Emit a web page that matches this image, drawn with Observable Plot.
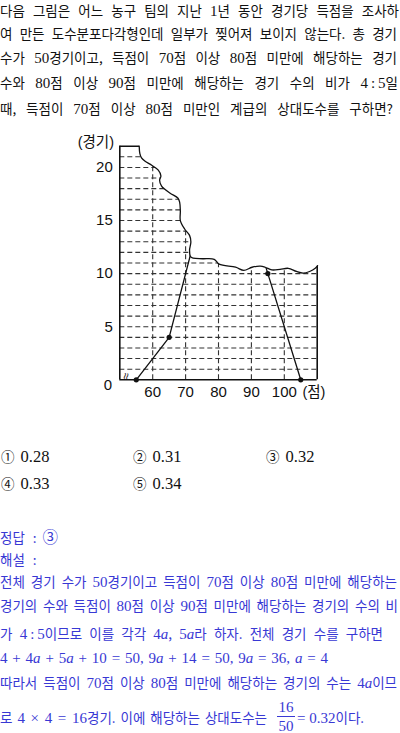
<!DOCTYPE html>
<html>
<head>
<meta charset="utf-8">
<script src="https://cdn.jsdelivr.net/npm/d3@7"></script>
<script src="https://cdn.jsdelivr.net/npm/@observablehq/plot@0.6"></script>
<style>
  html, body { margin: 0; padding: 0; background: #fff; }
  body { position: relative; width: 400px; height: 733px; overflow: hidden;
         font-family: "Noto Sans CJK KR", sans-serif; font-size: 13.5px; color: #111; }
  .ln { position: absolute; left: 0; height: 20px; line-height: 20px; white-space: normal;
        text-align: justify; text-align-last: justify; }
  .nat { text-align: left; text-align-last: auto; white-space: nowrap; }
  .n { font-family: "Liberation Serif", serif; font-size: 15px; }
  .n i { font-style: italic; }
  .blue { color: #3838d4; }
  .colon { margin: 0 3px; }
  .cv { font-family: "Liberation Serif", serif; font-size: 16.5px; margin-left: 6px; }
  .sep { display: inline-block; margin: 0 6px 0 8px; }
  #chart { position: absolute; left: 0; top: 125px; }
  .frac { position: absolute; font-family: "Liberation Serif", serif; font-size: 15px; text-align: center; width: 20px; }
</style>
</head>
<body>
<div class="ln" style="top:0px;height:20px;line-height:20px;width:399px">다음 그림은 어느 농구 팀의 지난 <span class="n">1</span>년 동안 경기당 득점을 조사하</div>
<div class="ln" style="top:23px;width:397px">여 만든 도수분포다각형인데 일부가 찢어져 보이지 않는다. 총 경기</div>
<div class="ln" style="top:47px;width:397px">수가 <span class="n">50</span>경기이고, 득점이 <span class="n">70</span>점 이상 <span class="n">80</span>점 미만에 해당하는 경기</div>
<div class="ln" style="top:72px;width:398px">수와 <span class="n">80</span>점 이상 <span class="n">90</span>점 미만에 해당하는 경기 수의 비가 <span class="n">4<span class="colon">:</span>5</span>일</div>
<div class="ln" style="top:98px;width:393px">때, 득점이 <span class="n">70</span>점 이상 <span class="n">80</span>점 미만인 계급의 상대도수를 구하면?</div>

<div id="chart"></div>

<div id="choices"></div>

<div class="ln nat blue" style="top:526px">정답<span class="sep">:</span><span style="font-size:15.5px">③</span></div>
<div class="ln nat blue" style="top:549px">해설<span class="sep">:</span></div>
<div class="ln blue" style="top:571px;width:397px">전체 경기 수가 <span class="n">50</span>경기이고 득점이 <span class="n">70</span>점 이상 <span class="n">80</span>점 미만에 해당하는</div>
<div class="ln blue" style="top:595px;width:398px">경기의 수와 득점이 <span class="n">80</span>점 이상 <span class="n">90</span>점 미만에 해당하는 경기의 수의 비</div>
<div class="ln blue" style="top:623px;width:383px">가 <span class="n">4<span class="colon">:</span>5</span>이므로 이를 각각 <span class="n">4<i>a</i></span>, <span class="n">5<i>a</i></span>라 하자. 전체 경기 수를 구하면</div>
<div class="ln blue n" style="top:648px;width:328px">4 + 4<i>a</i> + 5<i>a</i> + 10 = 50, 9<i>a</i> + 14 = 50, 9<i>a</i> = 36, <i>a</i> = 4</div>
<div class="ln blue" style="top:672px;width:397px">따라서 득점이 <span class="n">70</span>점 이상 <span class="n">80</span>점 미만에 해당하는 경기의 수는 <span class="n">4<i>a</i></span>이므</div>
<div class="ln blue" style="top:707px;width:267px">로 <span class="n">4 × 4 = 16</span>경기. 이에 해당하는 상대도수는</div>
<div class="frac blue" style="left:276px;top:697px;line-height:20px">16</div>
<div class="blue" style="position:absolute;left:277px;top:716px;width:18px;height:1px;background:#3838d4"></div>
<div class="frac blue" style="left:276px;top:716px;line-height:20px">50</div>
<div class="ln nat blue" style="top:707px;left:297px"><span class="n">= 0.32</span>이다.</div>

<script>
// ---- data ----
const classMid = [55, 65, 75, 85, 95, 105];
const freq = [0, 4, 16, 20, 10, 0];
const yTickValues = [5, 10, 15, 20];
const xTickValues = [60, 70, 80, 90, 100];
const gridCounts = [1,2,3,4,5,6,7,8,9,10,11,12,13,14,15,16,17,18,19,20,21];
const gridScores = [60, 70, 80, 90, 100];
// torn edge of the paper (score, count)
const tearX = [55.9, 56.1, 56.6, 57.6, 59.7, 61.7, 62.5, 62.1, 62.7, 65.2, 67.7, 68.2, 68.4, 68.4, 69.7, 71.2, 71.6, 71.2, 71.5, 72.3, 75.2, 78.7, 80.2, 85.2, 87.7, 90.2, 92.7, 94.2, 96.2, 98.7, 101.2, 103.7, 105.7, 107.7, 109.4, 110.1];
const tearY = [22, 21.3, 20.9, 20.6, 20.2, 19.75, 19.2, 18.8, 18.25, 17.6, 17.1, 16.7, 15.9, 15.0, 14.2, 13.6, 13.0, 12.2, 11.6, 11.45, 11.4, 11.35, 10.9, 10.6, 10.3, 10.6, 10.7, 10.6, 10.35, 10.4, 10.5, 10.2, 10.05, 10.2, 10.5, 10.75];
const choiceMarks = ["①", "②", "③", "④", "⑤"];
const choiceValues = ["0.28", "0.31", "0.32", "0.33", "0.34"];

// ---- build ----
const poly = classMid.map((x, i) => ({x, y: freq[i]}));
const tear = tearX.map((x, i) => ({x, y: tearY[i]}));
const tearFill = tear.concat([{x: 111.8, y: 10.75}, {x: 111.8, y: 23}, {x: 55.9, y: 23}]);
const ink = "#111";
const sans = "Liberation Sans, Noto Sans CJK KR, sans-serif";

const chart = Plot.plot({
  width: 400,
  height: 285,
  style: {background: "transparent", fontFamily: sans},
  x: {domain: [50, 110], range: [119.3, 316.7], axis: null},
  y: {domain: [0, 22], range: [254.3, 20.7], axis: null},
  marks: [
    Plot.ruleY(gridCounts, {x1: 50, x2: 110, stroke: "#333", strokeWidth: 1.1, strokeDasharray: "5,3"}),
    Plot.ruleX(gridScores, {y1: 0, y2: 22, stroke: "#333", strokeWidth: 1.1, strokeDasharray: "5,3"}),
    Plot.ruleX([50, 110], {y1: 0, y2: 22, stroke: ink, strokeWidth: 1.6}),
    Plot.ruleY([0, 22], {x1: 50, x2: 110, stroke: ink, strokeWidth: 1.6}),
    Plot.line(poly, {x: "x", y: "y", stroke: ink, strokeWidth: 1.3}),
    Plot.dot(poly, {x: "x", y: "y", r: 2.6, fill: ink, stroke: "none"}),
    Plot.line(tearFill, {x: "x", y: "y", fill: "white", stroke: "none", curve: "catmull-rom"}),
    Plot.line(tear, {x: "x", y: "y", stroke: ink, strokeWidth: 1.3, curve: "catmull-rom"}),
    Plot.text(["≈"], {x: 51.9, y: 0.35, text: d => d, rotate: 100, fontSize: 12, fill: ink}),
    Plot.text(yTickValues, {x: 50, y: d => d, text: d => String(d), textAnchor: "end", dx: -7, fontSize: 15, fill: ink}),
    Plot.text(["0"], {x: 50, y: 0, text: d => d, dx: -11.8, dy: 5.7, fontSize: 15, fill: ink}),
    Plot.text(xTickValues, {x: d => d, y: 0, text: d => String(d), dy: 12.4, fontSize: 15, fill: ink}),
    Plot.text(["(점)"], {x: 109, y: 0, text: d => d, dy: 12.4, fontSize: 14.5, fill: ink}),
    Plot.text(["(경기)"], {x: 50, y: 22, text: d => d, dx: -24, dy: -3.5, fontSize: 14.5, fill: ink})
  ]
});
document.getElementById("chart").appendChild(chart);

// choices
const cx = [1, 133, 266];
const cy = [446, 473];
const box = document.getElementById("choices");
choiceMarks.forEach((m, i) => {
  const d = document.createElement("div");
  d.className = "ln nat";
  d.style.top = cy[Math.floor(i / 3)] + "px";
  d.style.left = cx[i % 3] + "px";
  d.innerHTML = m + "<span class='cv'>" + choiceValues[i] + "</span>";
  box.appendChild(d);
});
</script>
</body>
</html>
